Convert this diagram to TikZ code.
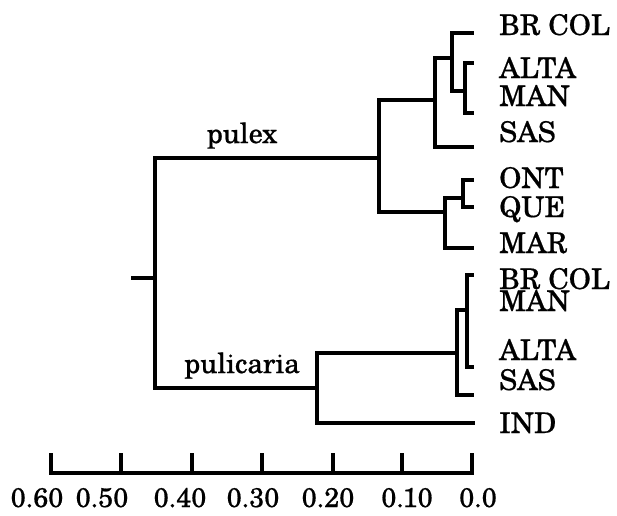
\documentclass[tikz,border=0pt]{standalone}
\usepackage{fontspec}
\setmainfont{texgyreschola-regular.otf}[FakeBold=0.6]
\begin{document}
\begin{tikzpicture}[x=1pt,y=-1pt,
  branch/.style={line width=3.4pt,line cap=rect,line join=miter},
  leaf/.style={anchor=base west,inner sep=0pt,font=\fontsize{28.5}{30}\selectfont},
  grp/.style={anchor=base,inner sep=0pt,font=\fontsize{28}{30}\selectfont},
  axlab/.style={anchor=base,inner sep=0pt,font=\fontsize{27}{30}\selectfont}]
\useasboundingbox (0,0) rectangle (617,515);
% leaf tips
\coordinate (t1) at (472,33);
\coordinate (t2) at (472,63);
\coordinate (t3) at (472,113);
\coordinate (t4) at (472,147);
\coordinate (t5) at (472,180);
\coordinate (t6) at (472,207);
\coordinate (t7) at (472,248);
\coordinate (t8) at (472,275);
\coordinate (t9) at (472,367);
\coordinate (t10) at (472,395);
\coordinate (t11) at (473,423);
% internal junctions
\coordinate (am) at (465,91);
\coordinate (b) at (452,58);
\coordinate (c) at (435,100);
\coordinate (oq) at (463,198);
\coordinate (m) at (445,212);
\coordinate (px) at (379,158);
\coordinate (bma) at (467,310);
\coordinate (s) at (457,353);
\coordinate (pc) at (317,388);
\coordinate (root) at (155,278);
\coordinate (stub) at (133,278);
% brackets
\draw[branch] (t2) -- (t2-|am) -- (t3-|am) -- (t3);
\draw[branch] (t1) -- (t1-|b) -- (am-|b) -- (am);
\draw[branch] (b) -- (b-|c) -- (t4-|c) -- (t4);
\draw[branch] (t5) -- (t5-|oq) -- (t6-|oq) -- (t6);
\draw[branch] (oq) -- (oq-|m) -- (t7-|m) -- (t7);
\draw[branch] (c) -- (c-|px) -- (m-|px) -- (m);
\draw[branch] (t8) -- (t8-|bma) -- (t9-|bma) -- (t9);
\draw[branch] (bma) -- (bma-|s) -- (t10-|s) -- (t10);
\draw[branch] (s) -- (s-|pc) -- (t11-|pc) -- (t11);
\draw[branch] (px) -- (px-|root) -- (pc-|root) -- (pc);
\draw[branch] (stub) -- (root);
% leaf labels
\node[leaf] (L1) at (499,35) {BR COL};
\node[leaf] (L2) at (499,78) {ALTA};
\node[leaf] (L3) at (499,106) {MAN};
\node[leaf] (L4) at (499,142) {SAS};
\node[leaf] (L5) at (499,188) {ONT};
\node[leaf] (L6) at (499,217) {QUE};
\node[leaf] (L7) at (499,253) {MAR};
\node[leaf] (L8) at (499,289) {BR COL};
\node[leaf] (L9) at (499,311) {MAN};
\node[leaf] (L10) at (499,360) {ALTA};
\node[leaf] (L11) at (499,390) {SAS};
\node[leaf] (L12) at (499,433) {IND};
% group labels
\node[grp] (gpx) at (242,143) {pulex};
\node[grp] (gpc) at (242,373) {pulicaria};
% axis
\coordinate (a0) at (51,473);
\coordinate (a6) at (472,473);
\draw[branch] (a0) -- (a6);
\foreach \x/\n in {51/k0,121/k1,192/k2,262/k3,333/k4,402/k5,472/k6}{
  \coordinate (\n) at (\x,455);
  \draw[branch] (\n) -- (\n|-a0);
}
\node[axlab] (x0) at (37,507) {0.60};
\node[axlab] (x1) at (102,507) {0.50};
\node[axlab] (x2) at (180,507) {0.40};
\node[axlab] (x3) at (253,507) {0.30};
\node[axlab] (x4) at (328,507) {0.20};
\node[axlab] (x5) at (407,507) {0.10};
\node[axlab] (x6) at (478,507) {0.0};
\end{tikzpicture}
\end{document}
